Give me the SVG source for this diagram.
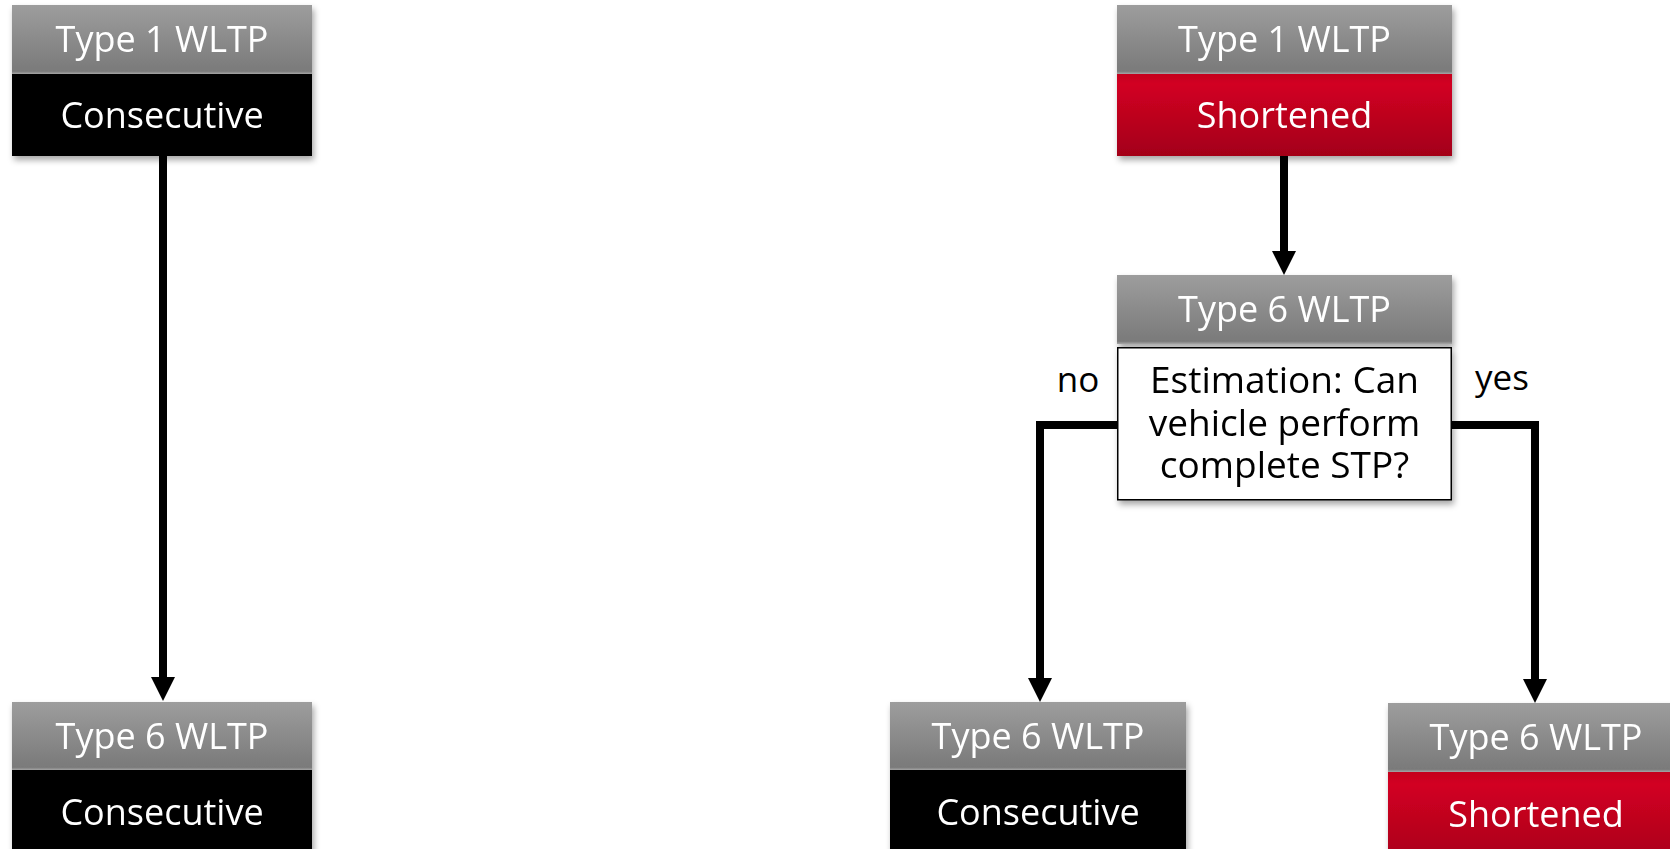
<svg xmlns="http://www.w3.org/2000/svg" width="1670" height="849" viewBox="0 0 1670 849">
  <defs>
    <linearGradient id="gGray" x1="0" y1="0" x2="0" y2="1">
      <stop offset="0" stop-color="#9d9d9d"/>
      <stop offset="0.96" stop-color="#7a7a7a"/>
      <stop offset="1" stop-color="#a5a5a5"/>
    </linearGradient>
    <linearGradient id="gRed" x1="0" y1="0" x2="0" y2="1">
      <stop offset="0" stop-color="#c4001c"/>
      <stop offset="0.12" stop-color="#d20022"/>
      <stop offset="1" stop-color="#a30019"/>
    </linearGradient>
    <filter id="shadow" x="-10%" y="-10%" width="120%" height="130%">
      <feDropShadow dx="2" dy="4" stdDeviation="3" flood-color="#000" flood-opacity="0.35"/>
    </filter>
    <marker id="arrow" markerUnits="userSpaceOnUse" markerWidth="24" markerHeight="24" viewBox="0 0 24 24" refX="0" refY="12" orient="auto">
      <path d="M0,0 L24,12 L0,24 z" fill="#000"/>
    </marker>
  </defs>
  <style>
    .t { font-family: "Open Sans", "Liberation Sans", sans-serif; font-size: 36px; text-anchor: middle; }
    .q { font-size: 37px; }
    .lbl { font-size: 35px; }
    .w { fill: #ffffff; }
    .k { fill: #000000; }
    .gray { fill: url(#gGray); }
    .black { fill: #000000; }
    .red { fill: url(#gRed); }
    .white { fill: #ffffff; stroke: #000; stroke-width: 1.5; }
    .conn { fill: none; stroke: #000; stroke-width: 8; stroke-linejoin: miter; marker-end: url(#arrow); }
  </style>

  <g id="connectors">
    <path class="conn" d="M163,156 V677"/>
    <path class="conn" d="M1284,156 V251"/>
    <path class="conn" d="M1117,425 H1040 V678"/>
    <path class="conn" d="M1452,425 H1535 V679"/>
  </g>

  <g id="node-left-top" filter="url(#shadow)">
    <rect class="gray" x="12" y="5" width="300" height="69"/>
    <rect class="black" x="12" y="74" width="300" height="82"/>
    <text class="t w" x="162" y="52">Type 1 WLTP</text>
    <text class="t w" x="162" y="128">Consecutive</text>
  </g>

  <g id="node-right-top" filter="url(#shadow)">
    <rect class="gray" x="1117" y="5" width="335" height="69"/>
    <rect class="red" x="1117" y="74" width="335" height="82"/>
    <text class="t w" x="1284.5" y="52">Type 1 WLTP</text>
    <text class="t w" x="1284.5" y="128">Shortened</text>
  </g>

  <g id="node-decision" filter="url(#shadow)">
    <rect class="gray" x="1117" y="275" width="335" height="69"/>
    <rect class="white" x="1117.75" y="347.75" width="333.5" height="152"/>
    <text class="t w" x="1284.5" y="322">Type 6 WLTP</text>
    <text class="t q k" x="1284.5" y="393">Estimation: Can</text>
    <text class="t q k" x="1284.5" y="436">vehicle perform</text>
    <text class="t q k" x="1284.5" y="478">complete STP?</text>
  </g>

  <g id="labels">
    <text class="t lbl k" x="1078" y="392">no</text>
    <text class="t lbl k" x="1502" y="390">yes</text>
  </g>

  <g id="node-left-bottom" filter="url(#shadow)">
    <rect class="gray" x="12" y="702" width="300" height="68"/>
    <rect class="black" x="12" y="770" width="300" height="100"/>
    <text class="t w" x="162" y="749">Type 6 WLTP</text>
    <text class="t w" x="162" y="825">Consecutive</text>
  </g>

  <g id="node-mid-bottom" filter="url(#shadow)">
    <rect class="gray" x="890" y="702" width="296" height="68"/>
    <rect class="black" x="890" y="770" width="296" height="100"/>
    <text class="t w" x="1038" y="749">Type 6 WLTP</text>
    <text class="t w" x="1038" y="825">Consecutive</text>
  </g>

  <g id="node-right-bottom" filter="url(#shadow)">
    <rect class="gray" x="1388" y="703" width="296" height="69"/>
    <rect class="red" x="1388" y="772" width="296" height="100"/>
    <text class="t w" x="1536" y="750">Type 6 WLTP</text>
    <text class="t w" x="1536" y="827">Shortened</text>
  </g>
</svg>
